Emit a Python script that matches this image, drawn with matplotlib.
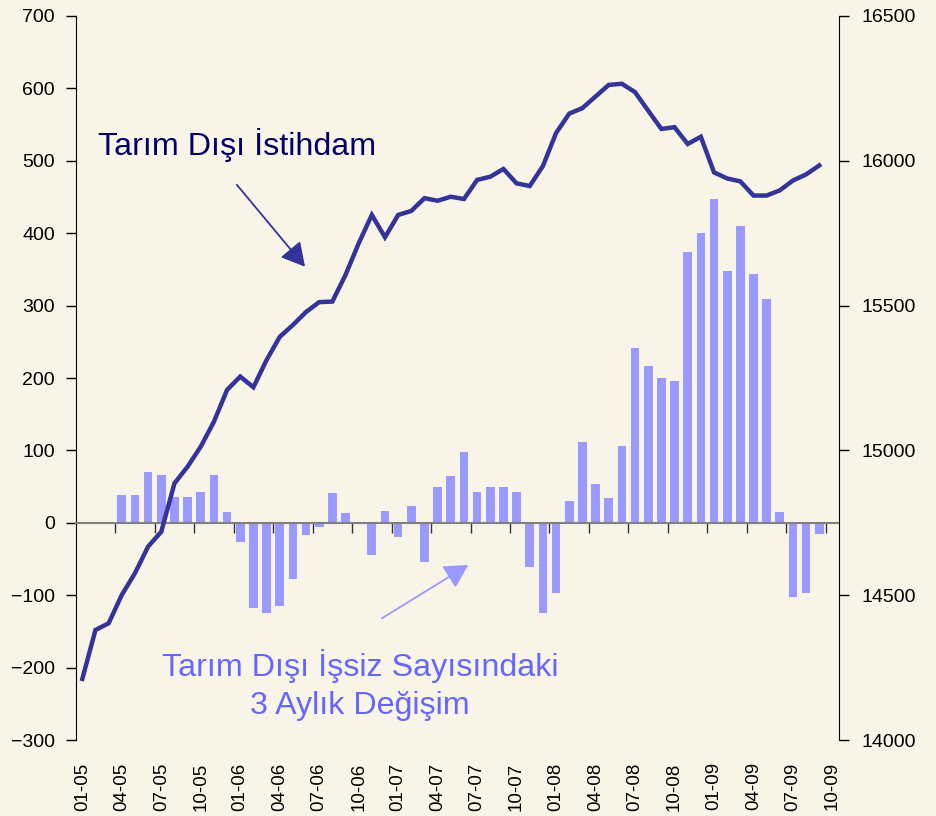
import numpy as np
import matplotlib

matplotlib.use('Agg')
import matplotlib.pyplot as plt

plt.rcParams['font.family'] = ['Liberation Sans', 'DejaVu Sans']

# monthly categories 01-05 ... 10-09 (last one is empty)
months = ["%02d-%02d" % (m, y) for y in range(5, 10) for m in range(1, 13)][:58]
tick_labels = months[::3]

# non-farm employment (thousands, right axis)
employment = [14211, 14380, 14403, 14501, 14576, 14668, 14719, 14886, 14944, 15013,
              15099, 15209, 15255, 15218, 15312, 15392, 15433, 15478, 15512, 15514,
              15606, 15715, 15813, 15736, 15813, 15827, 15871, 15862, 15876, 15868,
              15934, 15945, 15972, 15922, 15913, 15982, 16096, 16163, 16182, 16222,
              16262, 16266, 16237, 16173, 16110, 16116, 16058, 16083, 15960, 15939,
              15929, 15880, 15880, 15898, 15932, 15953, 15984]

# 3-month change in non-farm unemployed (thousands, left axis)
unemp_change = [np.nan, np.nan, np.nan, 39, 39, 70, 66, 36, 36, 43,
                66, 15, -27, -117, -125, -115, -77, -17, -6, 41,
                14, 0, -45, 16, -20, 23, -54, 50, 64, 98,
                43, 50, 49, 43, -61, -125, -97, 30, 112, 54,
                34, 106, 242, 217, 200, 196, 374, 400, 447, 348,
                410, 344, 309, 15, -102, -97, -16]

bg = '#F9F4E8'
line_col = '#333399'
bar_col = '#9999FF'

fig = plt.figure(figsize=(9.36, 8.16), dpi=100, facecolor=bg)
ax = fig.add_axes([0.0809, 0.0931, 0.8155, 0.8873])
ax.set_facecolor(bg)

x = np.arange(len(unemp_change))
ax.bar(x, unemp_change, width=0.66, color=bar_col, zorder=2)

ax.set_xlim(-0.5, len(months) - 0.5)
ax.set_ylim(-300, 700)
ax.set_yticks(np.arange(-300, 701, 100))
ax.tick_params(axis='y', direction='out', length=7, width=1, labelsize=14, pad=8)

# category axis crosses at zero, labels sit at the bottom
ax.spines['top'].set_visible(False)
ax.spines['right'].set_visible(False)
ax.spines['bottom'].set_position(('data', 0))
ax.spines['bottom'].set_color('#808080')
ax.spines['bottom'].set_linewidth(1.5)
ax.set_xticks(np.arange(2.5, len(months), 3))
ax.set_xticklabels([])
ax.tick_params(axis='x', direction='out', length=7, width=1, color='#333333')

sec = ax.secondary_xaxis(0)
sec.set_xticks(np.arange(0, len(months), 3))
sec.set_xticklabels(tick_labels, rotation=90, fontsize=13.5)
sec.tick_params(length=0, pad=16)
sec.spines['bottom'].set_visible(False)

ax2 = ax.twinx()
ax2.plot(np.arange(len(employment)), employment, color=line_col, lw=3.2,
         solid_joinstyle='miter', zorder=3)
ax2.set_ylim(14000, 16500)
ax2.set_yticks(np.arange(14000, 16501, 500))
ax2.tick_params(axis='y', direction='out', length=7, width=1, labelsize=14, pad=9)
ax2.spines['top'].set_visible(False)
ax2.spines['left'].set_visible(False)
ax2.spines['bottom'].set_visible(False)
ax2.patch.set_visible(False)

ax2.text(0.0292, 0.808, "Tarım Dışı İstihdam", transform=ax.transAxes,
         fontsize=23.2, color='#000066', va='baseline', ha='left')
ax2.annotate("", xy=(0.3004, 0.6537), xytext=(0.211, 0.767),
             xycoords='axes fraction', textcoords='axes fraction',
             arrowprops=dict(arrowstyle='-|>,head_length=0.4,head_width=0.22',
                             mutation_scale=36, color=line_col, lw=1.3,
                             shrinkA=0, shrinkB=0))

ax2.text(0.3726, 0.0884, "Tarım Dışı İşsiz Sayısındaki", transform=ax.transAxes,
         fontsize=23.2, color='#6666FF', va='baseline', ha='center')
ax2.text(0.3726, 0.0359, "3 Aylık Değişim", transform=ax.transAxes,
         fontsize=23.2, color='#6666FF', va='baseline', ha='center')
ax2.annotate("", xy=(0.5143, 0.2417), xytext=(0.4009, 0.168),
             xycoords='axes fraction', textcoords='axes fraction',
             arrowprops=dict(arrowstyle='-|>,head_length=0.4,head_width=0.22',
                             mutation_scale=36, color=bar_col, lw=1.3,
                             shrinkA=0, shrinkB=0))

fig.savefig('out.png', dpi=100, facecolor=bg)
